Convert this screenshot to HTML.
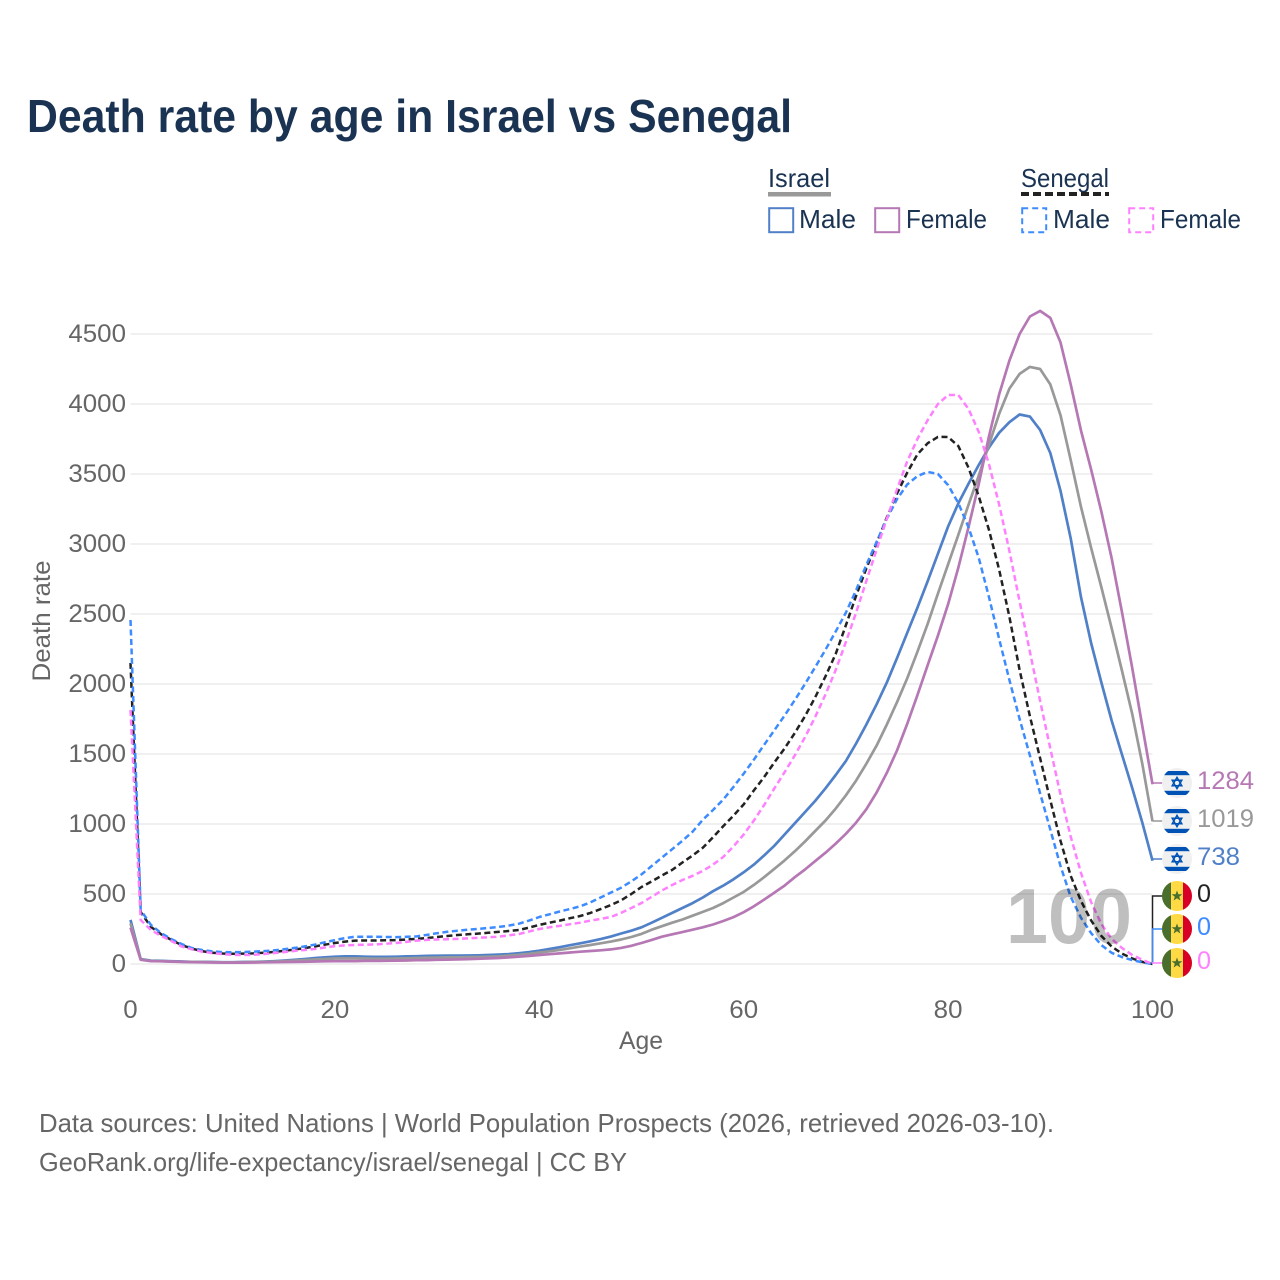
<!DOCTYPE html>
<html lang="en">
<head>
<meta charset="utf-8">
<title>Death rate by age in Israel vs Senegal</title>
<style>
html,body{margin:0;padding:0;background:#fff;}
svg{display:block;font-family:"Liberation Sans",sans-serif;}
</style>
</head>
<body>
<svg id="chart" xmlns="http://www.w3.org/2000/svg" width="1280" height="1280" viewBox="0 0 1280 1280">
  <defs>
    <clipPath id="flag-clip"><circle cx="0" cy="0" r="15"/></clipPath>
    <g id="flag-il" clip-path="url(#flag-clip)">
      <rect x="-15" y="-15" width="30" height="30" fill="#f0f0f0"/>
      <rect x="-15" y="-12" width="30" height="4.2" fill="#0052b4"/>
      <rect x="-15" y="7.8" width="30" height="4.2" fill="#0052b4"/>
      <polygon points="0,-5.6 4.8,2.8 -4.8,2.8" fill="none" stroke="#0052b4" stroke-width="1.5"/>
      <polygon points="0,5.6 4.8,-2.8 -4.8,-2.8" fill="none" stroke="#0052b4" stroke-width="1.5"/>
    </g>
    <g id="flag-sn" clip-path="url(#flag-clip)">
      <rect x="-15" y="-15" width="30" height="30" fill="#ffda44"/>
      <rect x="-15" y="-15" width="9" height="30" fill="#496e2d"/>
      <rect x="6" y="-15" width="9" height="30" fill="#d80027"/>
      <polygon points="0,-5.5 1.4,-1.7 5.4,-1.7 2.2,0.7 3.4,4.5 0,2.2 -3.4,4.5 -2.2,0.7 -5.4,-1.7 -1.4,-1.7" fill="#496e2d"/>
    </g>
  </defs>

  <text x="27" y="132" font-size="46" font-weight="700" fill="#1a3352" textLength="765" lengthAdjust="spacingAndGlyphs">Death rate by age in Israel vs Senegal</text>

  <g font-size="26" fill="#1a3352">
    <text x="768" y="187" textLength="62" lengthAdjust="spacingAndGlyphs">Israel</text>
    <rect x="768" y="192" width="63" height="4.5" fill="#999"/>
    <rect x="769.2" y="208.2" width="24" height="24" fill="none" stroke="#5080c8" stroke-width="2"/>
    <text x="799" y="228" textLength="57" lengthAdjust="spacingAndGlyphs">Male</text>
    <rect x="875.2" y="208.2" width="24" height="24" fill="none" stroke="#b678b4" stroke-width="2"/>
    <text x="906" y="228" textLength="81" lengthAdjust="spacingAndGlyphs">Female</text>
    <text x="1021" y="187" textLength="88" lengthAdjust="spacingAndGlyphs">Senegal</text>
    <line x1="1021" x2="1109" y1="194" y2="194" stroke="#222" stroke-width="4" stroke-dasharray="8 4"/>
    <rect x="1022.2" y="208.2" width="24" height="24" fill="none" stroke="#3d8bff" stroke-width="2" stroke-dasharray="6 4"/>
    <text x="1053" y="228" textLength="57" lengthAdjust="spacingAndGlyphs">Male</text>
    <rect x="1129.2" y="208.2" width="24" height="24" fill="none" stroke="#ff80ff" stroke-width="2" stroke-dasharray="6 4"/>
    <text x="1160" y="228" textLength="81" lengthAdjust="spacingAndGlyphs">Female</text>
  </g>

  <g id="grid"></g>
  <g id="yticks" font-size="25" fill="#666"></g>
  <g id="xticks" font-size="25" fill="#666"></g>
  <text transform="translate(50,621) rotate(-90)" text-anchor="middle" font-size="25" fill="#666" textLength="121" lengthAdjust="spacingAndGlyphs">Death rate</text>
  <text x="641" y="1049" text-anchor="middle" font-size="25" fill="#666" textLength="44" lengthAdjust="spacingAndGlyphs">Age</text>

  <g id="series"></g>

  <text x="1006" y="943" font-size="78" font-weight="700" fill="#000" fill-opacity="0.25" textLength="126" lengthAdjust="spacingAndGlyphs">100</text>

  <g id="endpoints" font-size="25"></g>

  <g font-size="26" fill="#666">
    <text x="39" y="1132" textLength="1015" lengthAdjust="spacingAndGlyphs">Data sources: United Nations | World Population Prospects (2026, retrieved 2026-03-10).</text>
    <text x="39" y="1171" textLength="588" lengthAdjust="spacingAndGlyphs">GeoRank.org/life-expectancy/israel/senegal | CC BY</text>
  </g>
</svg>

<script>
const yTickValues = [0, 500, 1000, 1500, 2000, 2500, 3000, 3500, 4000, 4500];
const xTickValues = [0, 20, 40, 60, 80, 100];

const israelMale = [315,35,24,22,20,18,16,15,14,13,13,14,15,17,20,24,29,35,42,48,52,54,54,52,51,51,52,54,56,58,59,60,60,61,62,64,67,71,77,85,95,107,120,134,148,162,178,196,218,238,262,295,330,365,400,435,475,520,560,605,655,710,775,845,925,1005,1085,1165,1255,1350,1450,1575,1710,1855,2010,2185,2365,2545,2735,2930,3125,3290,3430,3565,3690,3795,3870,3925,3910,3815,3650,3380,3040,2620,2290,2010,1740,1500,1260,1010,738];
const israelTotal = [290,33,22,20,18,16,15,14,13,12,12,13,14,15,17,20,24,28,32,36,39,40,40,39,38,38,39,41,43,45,46,47,48,49,50,52,55,60,66,73,82,91,101,112,124,136,148,160,175,193,215,245,270,295,318,345,372,400,435,475,515,565,620,680,740,805,875,950,1025,1110,1205,1310,1430,1560,1710,1870,2040,2230,2430,2645,2855,3065,3280,3490,3710,3930,4110,4215,4265,4250,4140,3920,3600,3265,2970,2690,2400,2100,1790,1430,1019];
const israelFemale = [260,30,20,19,17,15,13,12,11,10,10,10,11,12,13,14,15,16,18,19,20,21,21,22,22,23,24,25,27,28,30,31,33,35,37,40,43,47,52,58,64,70,76,82,88,93,98,104,115,130,150,172,195,212,228,245,262,282,307,335,370,412,460,510,560,620,675,735,795,860,930,1010,1105,1225,1365,1525,1715,1920,2135,2345,2570,2830,3120,3430,3770,4070,4310,4500,4625,4665,4615,4440,4140,3810,3530,3230,2900,2520,2120,1700,1284];
const senegalTotal = [2150,371,265,212,172,135,110,92,80,75,73,74,76,80,86,94,103,113,125,138,150,160,167,168,168,169,171,175,179,186,193,200,207,212,217,223,229,236,243,260,279,295,310,327,343,365,392,421,455,500,550,590,632,672,725,775,830,905,985,1060,1140,1240,1335,1440,1540,1650,1770,1905,2055,2215,2420,2630,2825,3005,3190,3360,3510,3640,3720,3765,3764,3700,3545,3340,3100,2815,2480,2100,1770,1470,1170,880,630,450,310,200,125,75,40,15,0];
const senegalMale = [2457,386,279,221,178,143,114,100,90,85,84,85,88,92,97,105,114,125,138,155,171,185,195,195,195,193,192,194,197,208,220,230,238,245,251,257,264,274,288,310,336,355,375,393,412,440,475,510,545,590,640,700,760,820,880,945,1030,1100,1175,1265,1360,1460,1565,1670,1775,1885,2000,2120,2245,2375,2510,2670,2850,3015,3180,3320,3425,3485,3515,3500,3421,3293,3120,2900,2620,2320,2029,1750,1490,1220,960,700,480,330,220,135,80,50,28,12,0];
const senegalFemale = [1815,314,243,200,164,125,105,88,78,71,65,64,66,71,78,85,93,100,107,118,128,133,136,138,140,145,150,158,167,172,175,177,179,183,187,191,195,204,214,232,250,262,272,284,295,310,322,336,365,400,436,480,525,564,600,630,665,710,765,840,925,1025,1135,1255,1370,1490,1620,1765,1925,2100,2300,2510,2735,2960,3180,3390,3590,3750,3885,4000,4064,4064,3965,3800,3570,3280,2950,2590,2230,1880,1540,1210,910,650,440,285,180,115,65,30,0];

const NS = 'http://www.w3.org/2000/svg';
const xScale = function (age) { return 130.5 + age * 10.22; };
const yScale = function (v) { return 964 - v * 0.14; };

function makeEl(tag, attrs, parent) {
  const el = document.createElementNS(NS, tag);
  Object.keys(attrs).forEach(function (k) { el.setAttribute(k, attrs[k]); });
  parent.appendChild(el);
  return el;
}

const gridGroup = document.getElementById('grid');
const yTickGroup = document.getElementById('yticks');
yTickValues.forEach(function (v) {
  const line = makeEl('line', { x1: xScale(0), x2: xScale(100), y1: yScale(v), y2: yScale(v), stroke: '#ececec', 'stroke-width': 1.5 }, gridGroup);
  
  
  const label = makeEl('text', { x: 126, y: yScale(v) + 8, 'text-anchor': 'end', textLength: String(v).length * 14.4, lengthAdjust: 'spacingAndGlyphs' }, yTickGroup);
  label.textContent = v;
  
  
});

const xTickGroup = document.getElementById('xticks');
xTickValues.forEach(function (a) {
  const label = makeEl('text', { x: xScale(a), y: 1018, 'text-anchor': 'middle', textLength: String(a).length * 14.4, lengthAdjust: 'spacingAndGlyphs' }, xTickGroup);
  label.textContent = a;
  
  
});

function drawLine(values, name, color, width, dash) {
  const pts = values.map(function (v, i) { return xScale(i).toFixed(1) + ',' + yScale(v).toFixed(1); }).join(' ');
  const line = makeEl('polyline', { points: pts, fill: 'none', stroke: color, 'stroke-width': width, 'stroke-linejoin': 'round' }, document.getElementById('series'));
  if (dash) { line.setAttribute('stroke-dasharray', dash); }
  
  
}
drawLine(israelMale, 'line-israel-male', '#5080c8', 2.7, null);
drawLine(israelTotal, 'line-israel-total', '#999999', 2.7, null);
drawLine(israelFemale, 'line-israel-female', '#b678b4', 2.7, null);
drawLine(senegalTotal, 'line-senegal-total', '#222222', 2.5, '6 3.5');
drawLine(senegalMale, 'line-senegal-male', '#3d8bff', 2.5, '6 3.5');
drawLine(senegalFemale, 'line-senegal-female', '#ff80ff', 2.5, '6 3.5');

function drawEnd(values, name, color, flag, flagY, labelW) {
  const g = document.getElementById('endpoints');
  const last = values[values.length - 1];
  const x0 = xScale(100);
  const y0 = yScale(last);
  const conn = makeEl('polyline', { points: x0 + ',' + y0 + ' ' + x0 + ',' + flagY + ' ' + (x0 + 12) + ',' + flagY, fill: 'none', stroke: color, 'stroke-width': 1.5 }, g);
  
  
  const use = makeEl('use', { href: '#' + flag, transform: 'translate(1177,' + flagY + ')' }, g);
  
  
  const label = makeEl('text', { x: 1197, y: flagY + 6, fill: color, textLength: labelW, lengthAdjust: 'spacingAndGlyphs' }, g);
  label.textContent = last;
  
  
}
drawEnd(israelFemale, 'end-israel-female', '#b678b4', 'flag-il', 783, 57);
drawEnd(israelTotal, 'end-israel-total', '#999999', 'flag-il', 821, 57);
drawEnd(israelMale, 'end-israel-male', '#5080c8', 'flag-il', 859, 43);
drawEnd(senegalTotal, 'end-senegal-total', '#222222', 'flag-sn', 896, 14);
drawEnd(senegalMale, 'end-senegal-male', '#3d8bff', 'flag-sn', 929, 14);
drawEnd(senegalFemale, 'end-senegal-female', '#ff80ff', 'flag-sn', 963, 14);
</script>
</body>
</html>
